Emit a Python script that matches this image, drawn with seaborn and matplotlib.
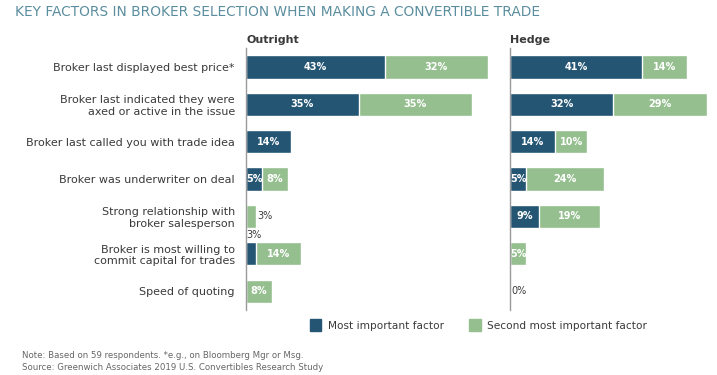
import matplotlib
matplotlib.use("Agg")
import matplotlib.pyplot as plt
import seaborn as sns
import pandas as pd
from matplotlib.patches import Patch

# dados
fatores = [
    "Broker last displayed best price*",
    "Broker last indicated they were\naxed or active in the issue",
    "Broker last called you with trade idea",
    "Broker was underwriter on deal",
    "Strong relationship with\nbroker salesperson",
    "Broker is most willing to\ncommit capital for trades",
    "Speed of quoting",
]
outright_principal = [43, 35, 14, 5, 0, 3, 0]
outright_segundo = [32, 35, 0, 8, 3, 14, 8]
hedge_principal = [41, 32, 14, 5, 9, 0, 0]
hedge_segundo = [14, 29, 10, 24, 19, 5, 0]

AZUL = "#245674"
VERDE = "#95bf8f"
TEXTO = "#3a3a3a"

sns.set_style("white")
plt.rcParams['font.family'] = ['DejaVu Sans']

fig = plt.figure(figsize=(7.17, 3.75), dpi=100)
ax1 = fig.add_axes([0.3431, 0.174, 0.3598, 0.697])
ax2 = fig.add_axes([0.7113, 0.174, 0.2880, 0.697])


def desenhar(ax, principal, segundo, titulo, xmax, com_rotulos):
    df = pd.DataFrame({'fator': fatores, 'principal': principal, 'segundo': segundo})
    df['total'] = df['principal'] + df['segundo']
    sns.barplot(data=df, y='fator', x='total', color=VERDE, width=0.62,
                saturation=1, ax=ax, order=fatores)
    sns.barplot(data=df, y='fator', x='principal', color=AZUL, width=0.62,
                saturation=1, ax=ax, order=fatores)
    ax.set_xlim(0, xmax)
    ax.set_xlabel('')
    ax.set_ylabel('')
    ax.set_xticks([])
    for s in ['top', 'right', 'bottom']:
        ax.spines[s].set_visible(False)
    ax.spines['left'].set_color('#9a9a9a')
    ax.spines['left'].set_linewidth(1)
    ax.tick_params(axis='y', length=0, pad=8, labelsize=8.0, labelcolor=TEXTO)
    if not com_rotulos:
        ax.set_yticklabels([])
    ax.text(0, -0.72, titulo, fontsize=8, fontweight='semibold', color=TEXTO,
            ha='left', va='center')

    for i, (p, s) in enumerate(zip(principal, segundo)):
        # valor principal
        if p >= 5:
            ax.text(p / 2, i, f"{p}%", ha='center', va='center', color='white',
                    fontsize=7, fontweight='bold')
        elif p > 0:
            ax.text(0, i - 0.36, f"{p}%", ha='left', va='bottom', color=TEXTO,
                    fontsize=7)
        # segundo valor
        if s >= 5:
            ax.text(p + s / 2, i, f"{s}%", ha='center', va='center', color='white',
                    fontsize=7, fontweight='bold')
        elif s > 0:
            ax.text(p + s + 0.6, i, f"{s}%", ha='left', va='center', color=TEXTO,
                    fontsize=7)
        if p == 0 and s == 0:
            ax.text(0.4, i, "0%", ha='left', va='center', color=TEXTO, fontsize=7)


desenhar(ax1, outright_principal, outright_segundo, 'Outright', 80, True)
desenhar(ax2, hedge_principal, hedge_segundo, 'Hedge', 64, False)

fig.text(0.021, 0.967, 'KEY FACTORS IN BROKER SELECTION WHEN MAKING A CONVERTIBLE TRADE',
         fontsize=9.9, color='#5a8d9e', ha='left', va='center')

handles = [Patch(color=AZUL, label='Most important factor'),
           Patch(color=VERDE, label='Second most important factor')]
fig.legend(handles=handles, loc='center', bbox_to_anchor=(0.667, 0.133), ncol=2,
           frameon=False, fontsize=7.6, handlelength=1.1, handleheight=1.3,
           columnspacing=2.4, handletextpad=0.6, labelcolor=TEXTO)

fig.text(0.031, 0.051, 'Note: Based on 59 respondents. *e.g., on Bloomberg Mgr or Msg.',
         fontsize=6.2, color='#666666', ha='left', va='center')
fig.text(0.031, 0.021, 'Source: Greenwich Associates 2019 U.S. Convertibles Research Study',
         fontsize=6.2, color='#666666', ha='left', va='center')

fig.savefig('out.png', dpi=100)
